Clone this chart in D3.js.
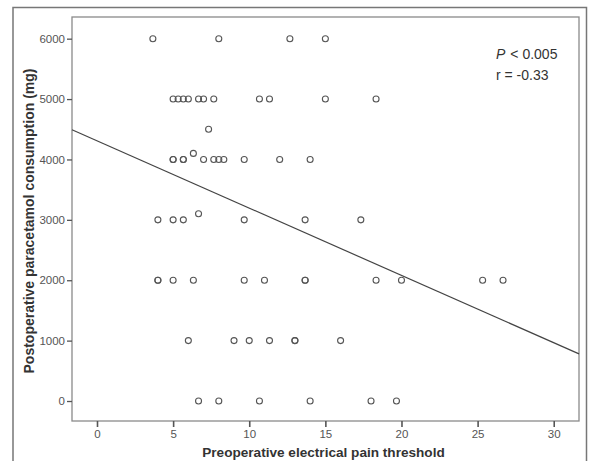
<!DOCTYPE html>
<html>
<head>
<meta charset="utf-8">
<script src="https://cdn.jsdelivr.net/npm/d3@7/dist/d3.min.js"></script>
<style>
  html, body { margin: 0; padding: 0; background: #fff; }
  svg { display: block; }
</style>
</head>
<body>
<svg id="chart" width="589" height="461"></svg>
<script>
// ---- data ----
const xTicks = [0, 5, 10, 15, 20, 25, 30];
const yTicks = [0, 1000, 2000, 3000, 4000, 5000, 6000];

// electrical pain threshold (x) and paracetamol consumption (y), one pair per patient
const thresholdValues = [
  3.67, 8.0, 12.67, 15.0,
  5.0, 5.33, 5.67, 6.0, 6.67, 7.0, 7.67, 10.67, 11.33, 15.0, 18.33,
  7.33,
  5.0, 5.0, 5.67, 5.67, 6.33, 7.0, 7.67, 8.0, 8.33, 9.67, 12.0, 14.0,
  4.0, 5.0, 5.67, 6.67, 9.67, 13.67, 17.33,
  4.0, 4.0, 5.0, 6.33, 9.67, 11.0, 13.67, 13.67, 18.33, 20.0, 25.33, 26.67,
  6.0, 9.0, 10.0, 11.33, 13.0, 13.0, 16.0,
  6.67, 8.0, 10.67, 14.0, 18.0, 19.67
];
const consumptionValues = [
  6000, 6000, 6000, 6000,
  5000, 5000, 5000, 5000, 5000, 5000, 5000, 5000, 5000, 5000, 5000,
  4500,
  4000, 4000, 4000, 4000, 4100, 4000, 4000, 4000, 4000, 4000, 4000, 4000,
  3000, 3000, 3000, 3100, 3000, 3000, 3000,
  2000, 2000, 2000, 2000, 2000, 2000, 2000, 2000, 2000, 2000, 2000, 2000,
  1000, 1000, 1000, 1000, 1000, 1000, 1000,
  0, 0, 0, 0, 0, 0
];
// fitted regression line: y = intercept + slope * x
const fitIntercept = 4310;
const fitSlope = -111.5;
const annotationLines = ["< 0.005", "r = -0.33"];

// ---- layout ----
const svg = d3.select("#chart");
const plot = { left: 72, right: 579, top: 17, bottom: 421 };

const x = d3.scaleLinear().domain([-1.642, 31.66]).range([plot.left, plot.right]);
const y = d3.scaleLinear().domain([-331, 6359]).range([plot.bottom, plot.top]);

// outer frame
svg.append("rect")
  .attr("x", 13).attr("y", 7.5).attr("width", 573.5).attr("height", 470)
  .attr("fill", "none").attr("stroke", "#777").attr("stroke-width", 1.5);

// plot frame
svg.append("rect")
  .attr("x", plot.left).attr("y", plot.top)
  .attr("width", plot.right - plot.left).attr("height", plot.bottom - plot.top)
  .attr("fill", "#fff").attr("stroke", "#8a8a8a").attr("stroke-width", 1.3);

const tickFont = "'Liberation Sans Narrow', 'Liberation Sans', Arial, sans-serif";

// x axis
const xAxis = svg.append("g")
  .attr("transform", `translate(0,${plot.bottom})`)
  .call(d3.axisBottom(x).tickValues(xTicks).tickFormat(d3.format("d")).tickSize(6).tickSizeOuter(0).tickPadding(3));
xAxis.select(".domain").remove();
xAxis.selectAll(".tick line").attr("stroke", "#555").attr("stroke-width", 1.6);
xAxis.selectAll(".tick text").attr("fill", "#555").style("font-family", tickFont).style("font-size", "11.5px");

// y axis
const yAxis = svg.append("g")
  .attr("transform", `translate(${plot.left},0)`)
  .call(d3.axisLeft(y).tickValues(yTicks).tickFormat(d3.format("d")).tickSize(5).tickSizeOuter(0).tickPadding(2));
yAxis.select(".domain").remove();
yAxis.selectAll(".tick line").attr("stroke", "#555").attr("stroke-width", 1.3);
yAxis.selectAll(".tick text").attr("fill", "#555").style("font-family", tickFont).style("font-size", "11.5px");

// regression line
const [d0, d1] = x.domain();
svg.append("line")
  .attr("x1", x(d0)).attr("y1", y(fitIntercept + fitSlope * d0))
  .attr("x2", x(d1)).attr("y2", y(fitIntercept + fitSlope * d1))
  .attr("stroke", "#444").attr("stroke-width", 1.2);

// points
const points = thresholdValues.map((v, i) => ({ x: v, y: consumptionValues[i] }));
svg.append("g").selectAll("circle")
  .data(points)
  .join("circle")
  .attr("cx", d => x(d.x))
  .attr("cy", d => y(d.y))
  .attr("r", 3)
  .attr("fill", "none")
  .attr("stroke", "#555")
  .attr("stroke-width", 1.1);

// annotation
const ann = svg.append("text")
  .attr("x", 496).attr("y", 58.5)
  .attr("fill", "#333")
  .style("font-family", "'Liberation Sans', Arial, sans-serif")
  .style("font-size", "14px");
ann.append("tspan").style("font-style", "italic").text("P");
ann.append("tspan").attr("dx", 5).text(annotationLines[0]);
svg.append("text")
  .attr("x", 496).attr("y", 79.5)
  .attr("fill", "#333")
  .style("font-family", "'Liberation Sans', Arial, sans-serif")
  .style("font-size", "14px")
  .text(annotationLines[1]);

// axis titles
svg.append("text")
  .attr("x", (plot.left + plot.right) / 2 - 2).attr("y", 456.5)
  .attr("text-anchor", "middle")
  .attr("fill", "#333")
  .style("font-family", "'Liberation Sans', Arial, sans-serif")
  .style("font-size", "13.6px").style("font-weight", "bold")
  .text("Preoperative electrical pain threshold");

svg.append("text")
  .attr("transform", `translate(34,${(plot.top + plot.bottom) / 2 + 2}) rotate(-90)`)
  .attr("text-anchor", "middle")
  .attr("fill", "#333")
  .style("font-family", "'Liberation Sans', Arial, sans-serif")
  .style("font-size", "14px").style("font-weight", "bold")
  .text("Postoperative paracetamol consumption (mg)");
</script>
</body>
</html>
